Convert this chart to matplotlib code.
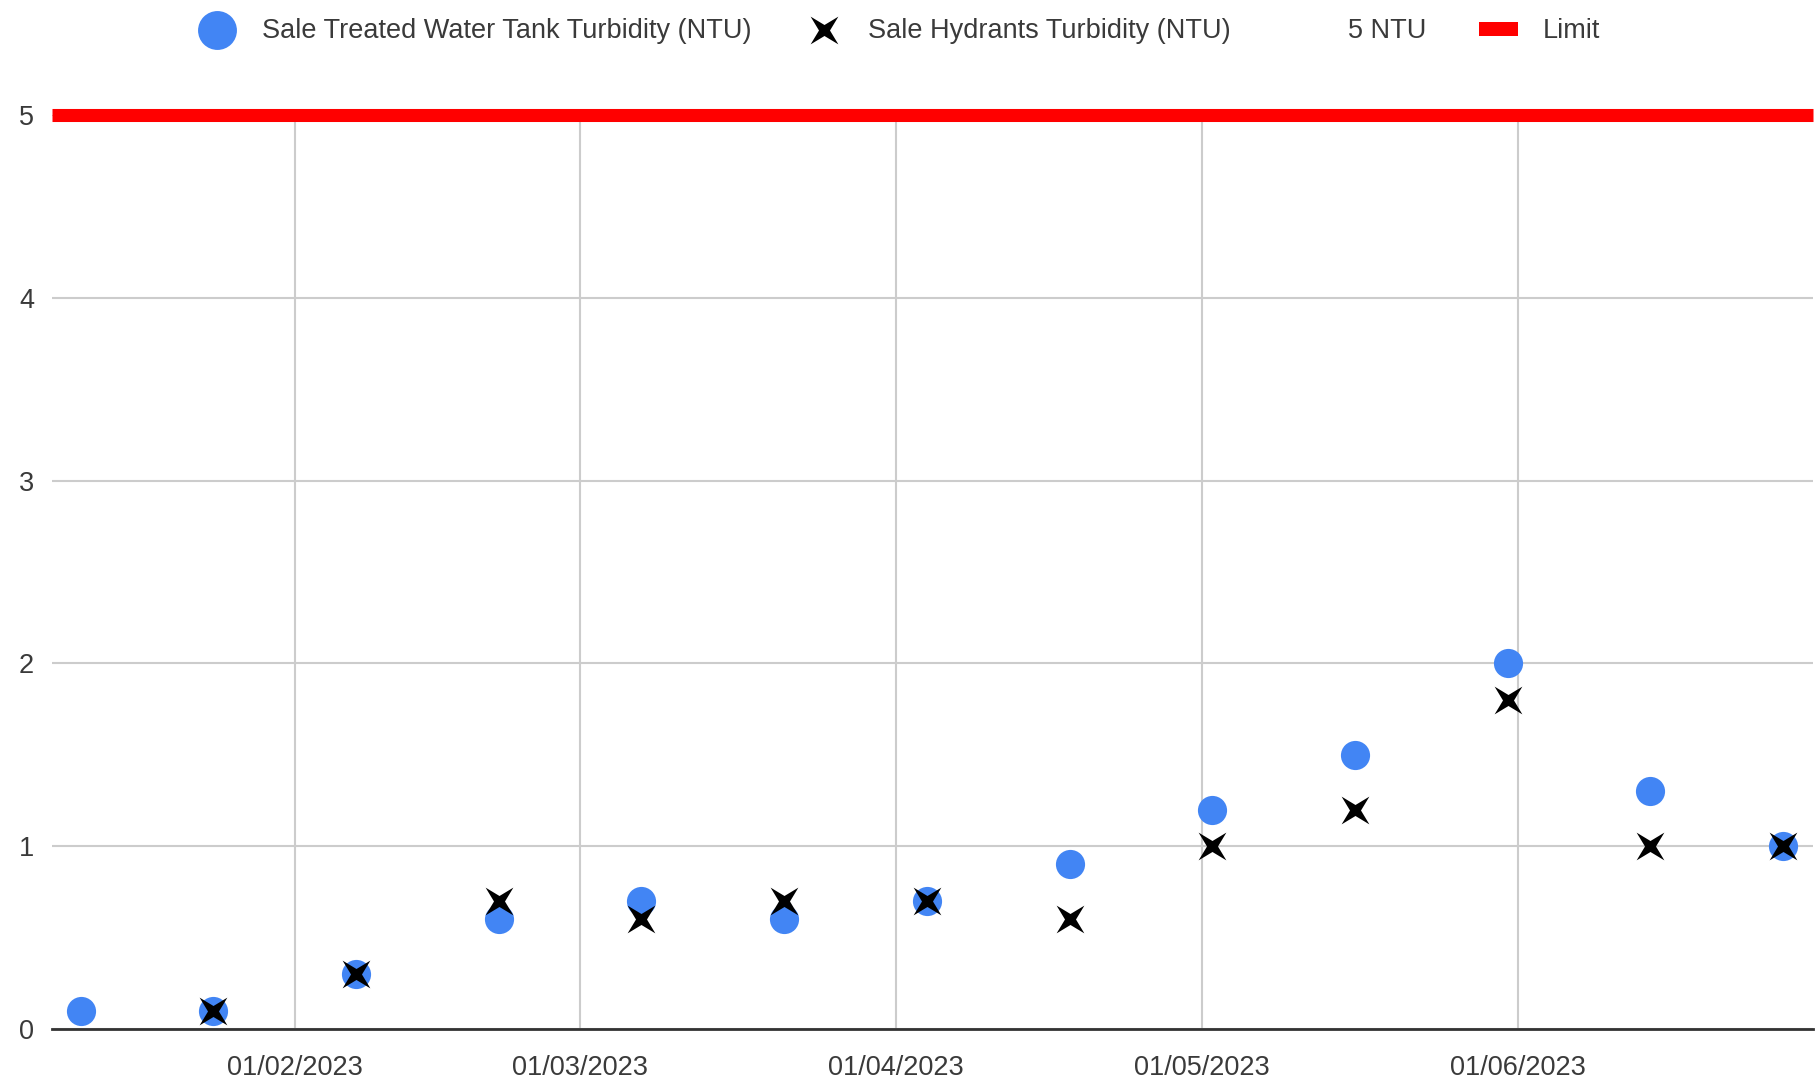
import datetime as dt
import matplotlib
matplotlib.use("Agg")
from matplotlib import pyplot as plt
from matplotlib import dates as mdates
from matplotlib.lines import Line2D
from matplotlib.patches import Rectangle
from matplotlib.path import Path
from matplotlib.transforms import Affine2D

plt.rcParams['font.family'] = ['Liberation Sans Narrow', 'Liberation Sans', 'DejaVu Sans']

# sampling dates (fortnightly)
sample_dates = [
    dt.date(2023, 1, 11), dt.date(2023, 1, 24), dt.date(2023, 2, 7),
    dt.date(2023, 2, 21), dt.date(2023, 3, 7), dt.date(2023, 3, 21),
    dt.date(2023, 4, 4), dt.date(2023, 4, 18), dt.date(2023, 5, 2),
    dt.date(2023, 5, 16), dt.date(2023, 5, 31), dt.date(2023, 6, 14),
    dt.date(2023, 6, 27),
]
tank_turbidity = [0.1, 0.1, 0.3, 0.6, 0.7, 0.6, 0.7, 0.9, 1.2, 1.5, 2.0, 1.3, 1.0]
hydrant_turbidity = [None, 0.1, 0.3, 0.7, 0.6, 0.7, 0.7, 0.6, 1.0, 1.2, 1.8, 1.0, 1.0]
limit_ntu = 5

tank_label = 'Sale Treated Water Tank Turbidity (NTU)'
hydrant_label = 'Sale Hydrants Turbidity (NTU)'
limit_text = '5 NTU'
limit_label = 'Limit'

BLUE = '#4285f4'
GRID = '#cccccc'
TEXT = '#3a3a3a'
FS = 19.5

# thin four-pointed cross
star = Path.unit_regular_star(4, 0.28)
cross = star.transformed(Affine2D().rotate_deg(45))

fig = plt.figure(figsize=(18.2, 10.86), dpi=100)
ax = fig.add_axes([0.0286, 0.0525, 0.9676, 0.8415])

hx = [d for d, v in zip(sample_dates, hydrant_turbidity) if v is not None]
hy = [v for v in hydrant_turbidity if v is not None]

ax.plot(sample_dates, tank_turbidity, linestyle='none', marker='o',
        markersize=21, color=BLUE, markeredgewidth=0, zorder=3)
ax.plot(hx, hy, linestyle='none', marker=cross, markersize=20,
        color='black', markeredgewidth=0, zorder=4)
ax.axhline(limit_ntu, color='#ff0000', linewidth=9.4, zorder=5,
           clip_on=False, solid_capstyle='butt')

ax.set_ylim(0, 5)
ax.set_xlim(dt.datetime(2023, 1, 8, 4), dt.datetime(2023, 6, 29, 23))
ax.set_yticks(range(0, 6))
ax.xaxis.set_major_locator(mdates.MonthLocator(bymonth=range(2, 7)))
ax.xaxis.set_major_formatter(mdates.DateFormatter('%d/%m/%Y'))

ax.grid(True, color=GRID, linewidth=1.5)
ax.set_axisbelow(True)
for side in ['top', 'right', 'left']:
    ax.spines[side].set_visible(False)
ax.spines['bottom'].set_color('#333333')
ax.spines['bottom'].set_linewidth(2)
ax.spines['bottom'].set_zorder(6)
ax.tick_params(axis='both', length=0, labelsize=FS, labelcolor=TEXT)
ax.tick_params(axis='y', pad=13)
ax.tick_params(axis='x', pad=19)

handles = [
    Line2D([], [], linestyle='none', marker='o', markersize=28, color=BLUE, markeredgewidth=0),
    Line2D([], [], linestyle='none', marker=cross, markersize=20, color='black', markeredgewidth=0),
    Line2D([], [], linestyle='none', marker=None),
    Rectangle((0, 0), 1, 1, facecolor='#ff0000', edgecolor='none'),
]
labels = [tank_label, hydrant_label, limit_text, limit_label]
leg = fig.legend(handles, labels, loc='center', bbox_to_anchor=(0.494, 0.971),
                 ncol=4, frameon=False, fontsize=FS, handlelength=1.45,
                 handleheight=0.45, handletextpad=0.92, columnspacing=1.95,
                 borderpad=0)
for t in leg.get_texts():
    t.set_color(TEXT)

fig.savefig('out.png', dpi=100)
